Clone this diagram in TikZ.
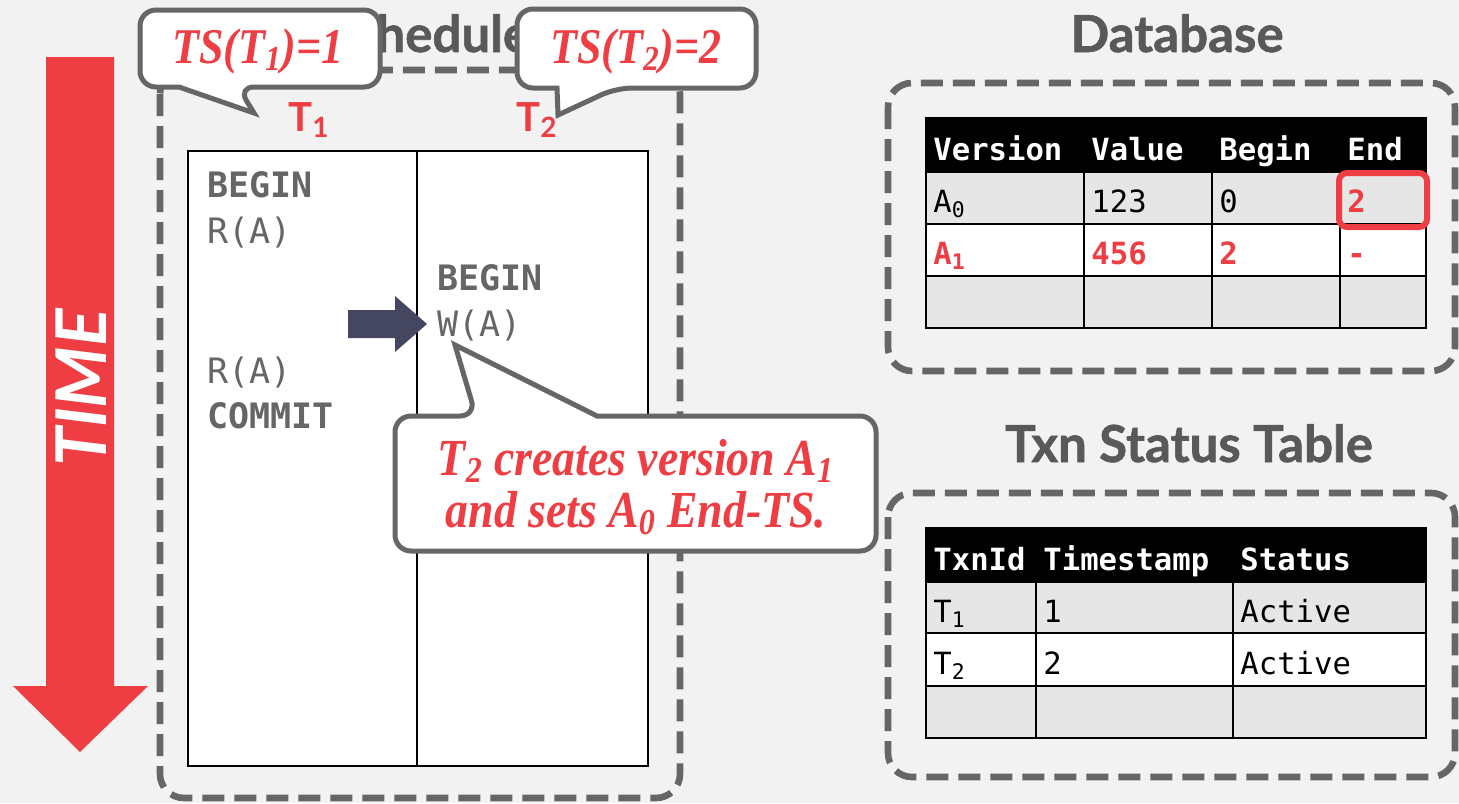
\documentclass[tikz,border=0pt]{standalone}
\usepackage{fontspec}
\setsansfont{Lato}
\setmonofont{DejaVu Sans Mono}
\newfontfamily\noteserif{Liberation Serif}[FakeStretch=0.88]
\newfontfamily\heavysans{Lato}[BoldFeatures={FakeBold=1.2}]

\definecolor{slidebg}{HTML}{F2F2F2}
\definecolor{boxgray}{HTML}{666666}
\definecolor{titlegray}{HTML}{595959}
\definecolor{cmured}{HTML}{EE3E44}
\definecolor{rowgray}{HTML}{E6E6E6}
\definecolor{arrownavy}{HTML}{45465F}

\tikzset{
  dashbox/.style={draw=boxgray, line width=3.3pt, dash pattern=on 11pt off 5pt, rounded corners=12pt},
  calloutbox/.style={draw=boxgray, fill=white, line width=2.5pt, rounded corners=8pt},
  sectitle/.style={font=\heavysans\bfseries\fontsize{25.5}{30}\selectfont, text=titlegray, anchor=base, inner sep=0pt},
  txnlabel/.style={font=\sffamily\bfseries\fontsize{20}{22}\selectfont, text=cmured, anchor=base west, inner sep=0pt},
  optext/.style={font=\ttfamily\fontsize{17.5}{20}\selectfont, text=boxgray, anchor=base west, inner sep=0pt},
  opbold/.style={optext, font=\ttfamily\bfseries\fontsize{17.5}{20}\selectfont},
  cell/.style={font=\ttfamily\fontsize{15.3}{18}\selectfont, anchor=base west, inner sep=0pt},
  headcell/.style={cell, text=white, font=\ttfamily\bfseries\fontsize{15.3}{18}\selectfont},
  redcell/.style={cell, text=cmured, font=\ttfamily\bfseries\fontsize{15.3}{18}\selectfont},
  tableline/.style={draw=black, line width=1pt},
  notetext/.style={font=\noteserif\bfseries\itshape\fontsize{26}{28}\selectfont, text=cmured, anchor=base, inner sep=0pt},
  tstext/.style={font=\noteserif\bfseries\itshape\fontsize{25}{28}\selectfont, text=cmured, anchor=base, inner sep=0pt}
}

\begin{document}
\begin{tikzpicture}[x=0.5pt, y=-0.5pt]
  % page
  \fill[slidebg] (0,0) rectangle (1459,803);
  \useasboundingbox (0,0) rectangle (1459,803);

  % titles
  \node[sectitle] (schedtitle) at (427,52) {Schedule};
  \node[sectitle] (dbtitle) at (1177,52) {Database};
  \node[sectitle] (txntitle) at (1189,462) {Txn Status Table};

  % time arrow
  \fill[cmured] (46,57) -- (114,57) -- (114,686) -- (148,686) -- (80,752) -- (13,686) -- (46,686) -- cycle;
  \node[rotate=90, font=\heavysans\bfseries\itshape\fontsize{35}{38}\selectfont, text=white, inner sep=0pt] (time) at (81,388) {TIME};

  % dashed frames
  \draw[dashbox] (160,70) rectangle (680,798);
  \draw[dashbox] (888,83) rectangle (1455,371);
  \draw[dashbox] (888,493) rectangle (1455,777);

  % schedule
  \draw[fill=white, line width=1pt] (188,151) rectangle (648,766);
  \draw[line width=1pt] (417,151) -- (417,766);
  \node[txnlabel] (t1) at (288,131) {T\textsubscript{1}};
  \node[txnlabel] (t2) at (516,131) {T\textsubscript{2}};
  \node[opbold] (begin1) at (207,197) {BEGIN};
  \node[optext] (read1) at (207,243) {R(A)};
  \node[opbold] (begin2) at (437,290) {BEGIN};
  \node[optext] (write2) at (437,336) {W(A)};
  \node[optext] (read2) at (207,383) {R(A)};
  \node[opbold] (commit1) at (207,428) {COMMIT};

  % current step marker
  \fill[arrownavy] (348,310) -- (395,310) -- (395,296) -- (427,324) -- (395,352) -- (395,338) -- (348,338) -- cycle;

  % database table
  \fill[black] (926,118) rectangle (1426,172);
  \fill[rowgray] (926,172) rectangle (1426,224);
  \fill[white] (926,224) rectangle (1426,276);
  \fill[rowgray] (926,276) rectangle (1426,328);
  \draw[tableline] (926,118) rectangle (1426,328);
  \draw[tableline] (926,172) -- (1426,172);
  \draw[tableline] (926,224) -- (1426,224);
  \draw[tableline] (926,276) -- (1426,276);
  \draw[tableline] (1084,118) -- (1084,328);
  \draw[tableline] (1212,118) -- (1212,328);
  \draw[tableline] (1340,118) -- (1340,328);
  \node[headcell] (dbversion) at (933,160) {Version};
  \node[headcell] (dbvalue) at (1091,160) {Value};
  \node[headcell] (dbbegin) at (1219,160) {Begin};
  \node[headcell] (dbend) at (1347,160) {End};
  \node[cell] (a0name) at (933,212) {A\textsubscript{0}};
  \node[cell] (a0value) at (1091,212) {123};
  \node[cell] (a0begin) at (1219,212) {0};
  \node[redcell] (a0end) at (1347,212) {2};
  \node[redcell] (a1name) at (933,264) {A\textsubscript{1}};
  \node[redcell] (a1value) at (1091,264) {456};
  \node[redcell] (a1begin) at (1219,264) {2};
  \node[redcell] (a1end) at (1347,264) {-};
  \draw[cmured, line width=3pt, rounded corners=4pt] (1339,173) rectangle (1427,227);

  % txn status table
  \fill[black] (926,528) rectangle (1426,582);
  \fill[rowgray] (926,582) rectangle (1426,633);
  \fill[white] (926,633) rectangle (1426,686);
  \fill[rowgray] (926,686) rectangle (1426,738);
  \draw[tableline] (926,528) rectangle (1426,738);
  \draw[tableline] (926,582) -- (1426,582);
  \draw[tableline] (926,633) -- (1426,633);
  \draw[tableline] (926,686) -- (1426,686);
  \draw[tableline] (1036,528) -- (1036,738);
  \draw[tableline] (1233,528) -- (1233,738);
  \node[headcell] (txnid) at (933,570) {TxnId};
  \node[headcell] (txnts) at (1043,570) {Timestamp};
  \node[headcell] (txnstatus) at (1240,570) {Status};
  \node[cell] (row1id) at (933,622) {T\textsubscript{1}};
  \node[cell] (row1ts) at (1043,622) {1};
  \node[cell] (row1status) at (1240,622) {Active};
  \node[cell] (row2id) at (933,674) {T\textsubscript{2}};
  \node[cell] (row2ts) at (1043,674) {2};
  \node[cell] (row2status) at (1240,674) {Active};

  % callouts
  \draw[calloutbox] (700,416) -- (876,416) -- (876,551) -- (395,551) -- (395,416) -- (476,416) [sharp corners] -- (455,345) -- (597,416) [rounded corners=8pt] -- cycle;
  \node[notetext] (note1) at (636,475) {T\textsubscript{2} creates version A\textsubscript{1}};
  \node[notetext] (note2) at (636,527) {and sets A\textsubscript{0} End-TS.};

  \draw[calloutbox] (300,10) -- (380,10) -- (380,87) -- (238,87) [sharp corners] -- (254,113) -- (179,87) [rounded corners=8pt] -- (140,87) -- (140,10) -- cycle;
  \node[tstext] (ts1) at (258,63) {TS(T\textsubscript{1})=1};

  \draw[calloutbox] (650,9) -- (756,9) -- (756,88) -- (616,88) [sharp corners] -- (558,115) -- (557,88) [rounded corners=8pt] -- (517,88) -- (517,9) -- cycle;
  \node[tstext] (ts2) at (636,63) {TS(T\textsubscript{2})=2};
\end{tikzpicture}
\end{document}
